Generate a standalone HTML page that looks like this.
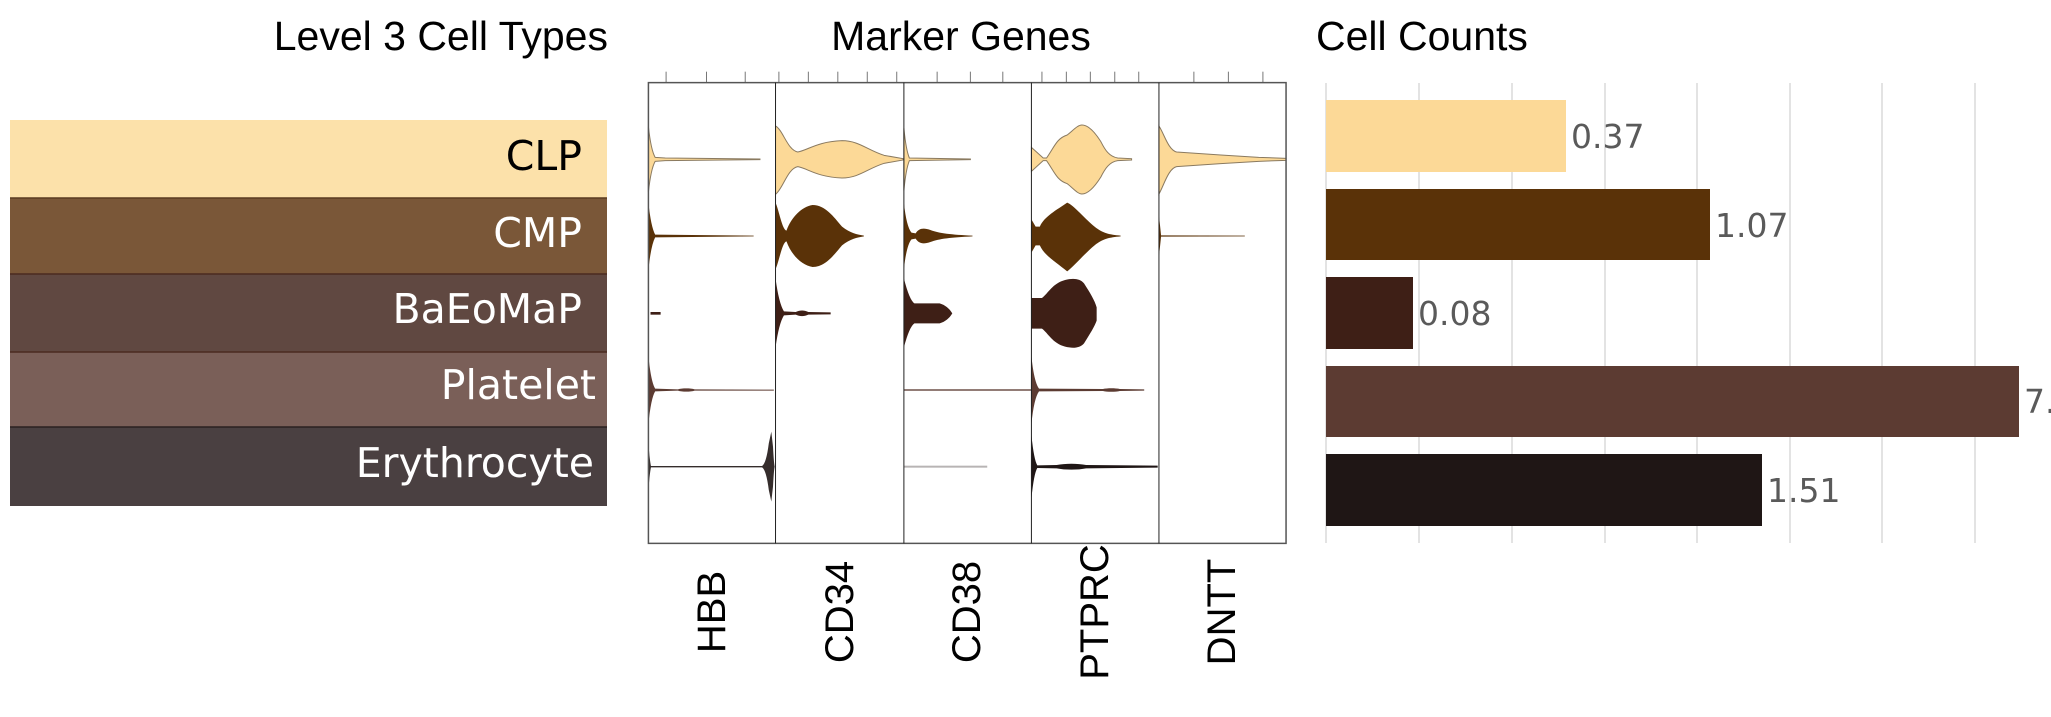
<!DOCTYPE html>
<html><head><meta charset="utf-8"><style>
html,body{margin:0;padding:0;background:#fff;}
svg{display:block;}
</style></head><body>
<svg width="2051" height="717" viewBox="0 0 2051 717" xmlns="http://www.w3.org/2000/svg">
<rect width="2051" height="717" fill="#fff"/>
<!-- Titles -->
<g font-family="Liberation Sans, Arial, sans-serif" font-size="41" fill="#000">
<text x="608" y="50" text-anchor="end">Level 3 Cell Types</text>
<text x="961" y="50" text-anchor="middle">Marker Genes</text>
<text x="1316" y="50">Cell Counts</text>
</g>
<!-- Left label boxes -->
<rect x="10" y="120" width="597" height="78" fill="#FCE1AA"/>
<rect x="10" y="198" width="597" height="76" fill="#7A5738"/>
<rect x="10" y="274" width="597" height="78" fill="#604841"/>
<rect x="10" y="352" width="597" height="75" fill="#7A5F58"/>
<rect x="10" y="427" width="597" height="79" fill="#4A4041"/>
<line x1="10" y1="198" x2="607" y2="198" stroke="#5a3a20" stroke-width="1.5"/>
<line x1="10" y1="274" x2="607" y2="274" stroke="#4a2a20" stroke-width="1.5"/>
<line x1="10" y1="352" x2="607" y2="352" stroke="#4a2a20" stroke-width="1.5"/>
<line x1="10" y1="427" x2="607" y2="427" stroke="#2a2020" stroke-width="1.5"/>
<g font-family="DejaVu Sans, sans-serif" font-size="41" text-anchor="end">
<text x="582" y="170" fill="#000">CLP</text>
<text x="582" y="247" fill="#fff">CMP</text>
<text x="582" y="323" fill="#fff">BaEoMaP</text>
<text x="596" y="399" fill="#fff">Platelet</text>
<text x="594" y="477" fill="#fff">Erythrocyte</text>
</g>
<!-- Violin area in zoom coords -->
<g transform="translate(640,70) scale(0.42088,0.33333)">
<g stroke="#777" stroke-width="1" fill="none">
<line x1="62" y1="5" x2="62" y2="38" vector-effect="non-scaling-stroke"/>
<line x1="158" y1="5" x2="158" y2="38" vector-effect="non-scaling-stroke"/>
<line x1="250" y1="5" x2="250" y2="38" vector-effect="non-scaling-stroke"/>
<line x1="330" y1="5" x2="330" y2="38" vector-effect="non-scaling-stroke"/>
<line x1="400" y1="5" x2="400" y2="38" vector-effect="non-scaling-stroke"/>
<line x1="470" y1="5" x2="470" y2="38" vector-effect="non-scaling-stroke"/>
<line x1="540" y1="5" x2="540" y2="38" vector-effect="non-scaling-stroke"/>
<line x1="610" y1="5" x2="610" y2="38" vector-effect="non-scaling-stroke"/>
<line x1="706" y1="5" x2="706" y2="38" vector-effect="non-scaling-stroke"/>
<line x1="785" y1="5" x2="785" y2="38" vector-effect="non-scaling-stroke"/>
<line x1="862" y1="5" x2="862" y2="38" vector-effect="non-scaling-stroke"/>
<line x1="955" y1="5" x2="955" y2="38" vector-effect="non-scaling-stroke"/>
<line x1="1013" y1="5" x2="1013" y2="38" vector-effect="non-scaling-stroke"/>
<line x1="1070" y1="5" x2="1070" y2="38" vector-effect="non-scaling-stroke"/>
<line x1="1128" y1="5" x2="1128" y2="38" vector-effect="non-scaling-stroke"/>
<line x1="1185" y1="5" x2="1185" y2="38" vector-effect="non-scaling-stroke"/>
<line x1="1316" y1="5" x2="1316" y2="38" vector-effect="non-scaling-stroke"/>
<line x1="1398" y1="5" x2="1398" y2="38" vector-effect="non-scaling-stroke"/>
<line x1="1480" y1="5" x2="1480" y2="38" vector-effect="non-scaling-stroke"/>
</g>
<!-- CLP row -->
<g fill="#FCD997" stroke="#8a7a60" stroke-width="1">
<path vector-effect="non-scaling-stroke" d="M20,170 Q26,240 36,262 L60,264 L285,267 L285,269 L60,272 L36,274 Q26,296 20,366 Z"/>
<path vector-effect="non-scaling-stroke" d="M322,168 C340,180 350,240 375,246 C400,240 420,215 480,212 C520,212 540,240 580,256 L625,266 L625,270 L580,280 C540,296 520,324 480,324 C420,321 400,296 375,290 C350,296 340,356 322,373 Z"/>
<path vector-effect="non-scaling-stroke" d="M627,175 Q632,240 640,264 L785,267 L785,269 L640,272 Q632,296 627,361 Z"/>
<path vector-effect="non-scaling-stroke" d="M930,232 L958,264 L966,264 C985,230 990,205 1015,195 C1030,180 1040,165 1050,165 C1065,165 1080,185 1095,215 C1105,240 1115,260 1135,264 L1168,266 L1168,270 L1135,272 C1115,276 1105,296 1095,321 C1080,351 1065,372 1050,372 C1040,372 1030,356 1015,341 C990,331 985,306 966,272 L958,272 L930,304 Z"/>
<path vector-effect="non-scaling-stroke" d="M1233,168 C1245,190 1255,240 1275,246 L1380,255 L1470,262 L1535,265 L1535,271 L1470,274 L1380,281 L1275,290 C1255,296 1245,346 1233,372 Z"/>
</g>
<!-- CMP row -->
<g fill="#5A3208">
<path d="M20,398 Q26,470 36,494 L270,497 L270,499 L36,502 Q26,526 20,600 Z"/>
<path d="M322,398 C330,420 338,480 348,482 C360,440 385,410 410,405 C440,405 460,440 480,470 C500,490 515,493 532,497 L532,499 C515,503 500,506 480,526 C460,556 440,591 410,591 C385,586 360,556 348,514 C338,516 330,576 322,598 Z"/>
<path d="M627,398 Q633,470 645,488 L655,490 C662,476 672,472 690,480 C710,490 740,494 790,497 L790,499 C740,502 710,506 690,516 C672,524 662,520 655,506 L645,508 Q633,526 627,598 Z"/>
<path d="M930,448 L940,470 L950,470 C960,440 990,420 1015,398 C1030,405 1060,450 1080,470 C1100,490 1115,494 1142,497 L1142,499 C1115,502 1100,506 1080,526 C1060,546 1030,590 1015,604 C990,578 960,556 950,526 L940,526 L930,548 Z"/>
<path d="M1233,438 Q1236,470 1238,496 L1437,497 L1437,499 L1238,500 Q1236,526 1233,558 Z"/>
</g>
<!-- BaEoMaP row -->
<g fill="#3E1F16">
<rect x="25" y="726" width="24" height="8"/>
<path d="M322,625 Q330,700 342,724 L370,726 C380,720 390,720 400,726 L453,727 L453,733 L400,734 C390,740 380,740 370,734 L342,736 Q330,760 322,832 Z"/>
<path d="M627,625 Q640,690 652,700 L712,700 C725,705 735,715 742,730 C735,745 725,755 712,760 L652,760 Q640,770 627,832 Z"/>
<path d="M930,684 L955,684 C970,670 980,640 1010,630 C1030,624 1045,626 1055,640 C1070,670 1080,690 1085,712 L1085,752 C1080,770 1070,790 1055,820 C1045,834 1030,836 1010,830 C980,820 970,790 955,776 L930,776 Z"/>
</g>
<!-- Platelet row -->
<g fill="#5C3B32">
<path d="M20,858 Q26,935 36,956 L90,958 C100,954 120,954 130,958 L318,959 L318,962 L130,962 C120,966 100,966 90,962 L36,964 Q26,985 20,1062 Z"/>
<rect x="627" y="958" width="303" height="4"/>
<path d="M930,858 Q936,935 948,956 L1100,957 C1110,954 1130,954 1140,957 L1198,958 L1198,962 L1140,963 C1130,966 1110,966 1100,963 L948,964 Q936,985 930,1062 Z"/>
</g>
<!-- Erythrocyte row -->
<g fill="#1F1615">
<path d="M20,1120 Q23,1170 26,1188 L290,1188 Q300,1180 306,1120 L312,1085 L316,1130 Q318,1180 320,1190 Q318,1200 316,1250 L312,1295 L306,1260 Q300,1200 290,1192 L26,1192 Q23,1210 20,1260 Z" fill-opacity="0.9"/>
<rect x="627" y="1187" width="198" height="6" fill="#b8b4b4"/>
<path d="M930,1095 Q936,1170 944,1186 L990,1185 C1010,1180 1040,1180 1060,1185 L1230,1187 L1230,1193 L1060,1195 C1040,1200 1010,1200 990,1195 L944,1194 Q936,1210 930,1285 Z"/>
</g>
<!-- frame and dividers -->
<g fill="none" stroke="#555">
<rect x="20" y="38" width="1515" height="1382" vector-effect="non-scaling-stroke" stroke-width="1.5"/>
<line x1="322" y1="38" x2="322" y2="1420" vector-effect="non-scaling-stroke" stroke="#222"/>
<line x1="627" y1="38" x2="627" y2="1420" vector-effect="non-scaling-stroke" stroke="#222"/>
<line x1="930" y1="38" x2="930" y2="1420" vector-effect="non-scaling-stroke" stroke="#222"/>
<line x1="1233" y1="38" x2="1233" y2="1420" vector-effect="non-scaling-stroke" stroke="#222"/>
</g>
</g>
<!-- Gene labels -->
<g font-family="Liberation Sans, Arial, sans-serif" font-size="40" fill="#000" text-anchor="middle">
<text transform="translate(725,612) rotate(-90)">HBB</text>
<text transform="translate(853,612) rotate(-90)">CD34</text>
<text transform="translate(980,612) rotate(-90)">CD38</text>
<text transform="translate(1108,612) rotate(-90)">PTPRC</text>
<text transform="translate(1235,612) rotate(-90)">DNTT</text>
</g>
<!-- Bar chart grid -->
<g stroke="#e3e3e3" stroke-width="2">
<line x1="1326" y1="83" x2="1326" y2="543"/>
<line x1="1419" y1="83" x2="1419" y2="543"/>
<line x1="1512" y1="83" x2="1512" y2="543"/>
<line x1="1605" y1="83" x2="1605" y2="543"/>
<line x1="1697" y1="83" x2="1697" y2="543"/>
<line x1="1790" y1="83" x2="1790" y2="543"/>
<line x1="1882" y1="83" x2="1882" y2="543"/>
<line x1="1975" y1="83" x2="1975" y2="543"/>
</g>
<rect x="1326" y="100" width="240" height="72" fill="#FCD997"/>
<rect x="1326" y="189" width="384" height="71" fill="#5A3208"/>
<rect x="1326" y="277" width="87" height="72" fill="#3E1F16"/>
<rect x="1326" y="366" width="693" height="71" fill="#5C3B32"/>
<rect x="1326" y="454" width="436" height="72" fill="#1F1615"/>
<g font-family="DejaVu Sans, sans-serif" font-size="33" fill="#5a5a5a">
<text x="1571" y="148">0.37</text>
<text x="1715" y="237">1.07</text>
<text x="1418" y="325">0.08</text>
<text x="2024" y="413">7.</text>
<text x="1767" y="502">1.51</text>
</g>
</svg>
</body></html>
